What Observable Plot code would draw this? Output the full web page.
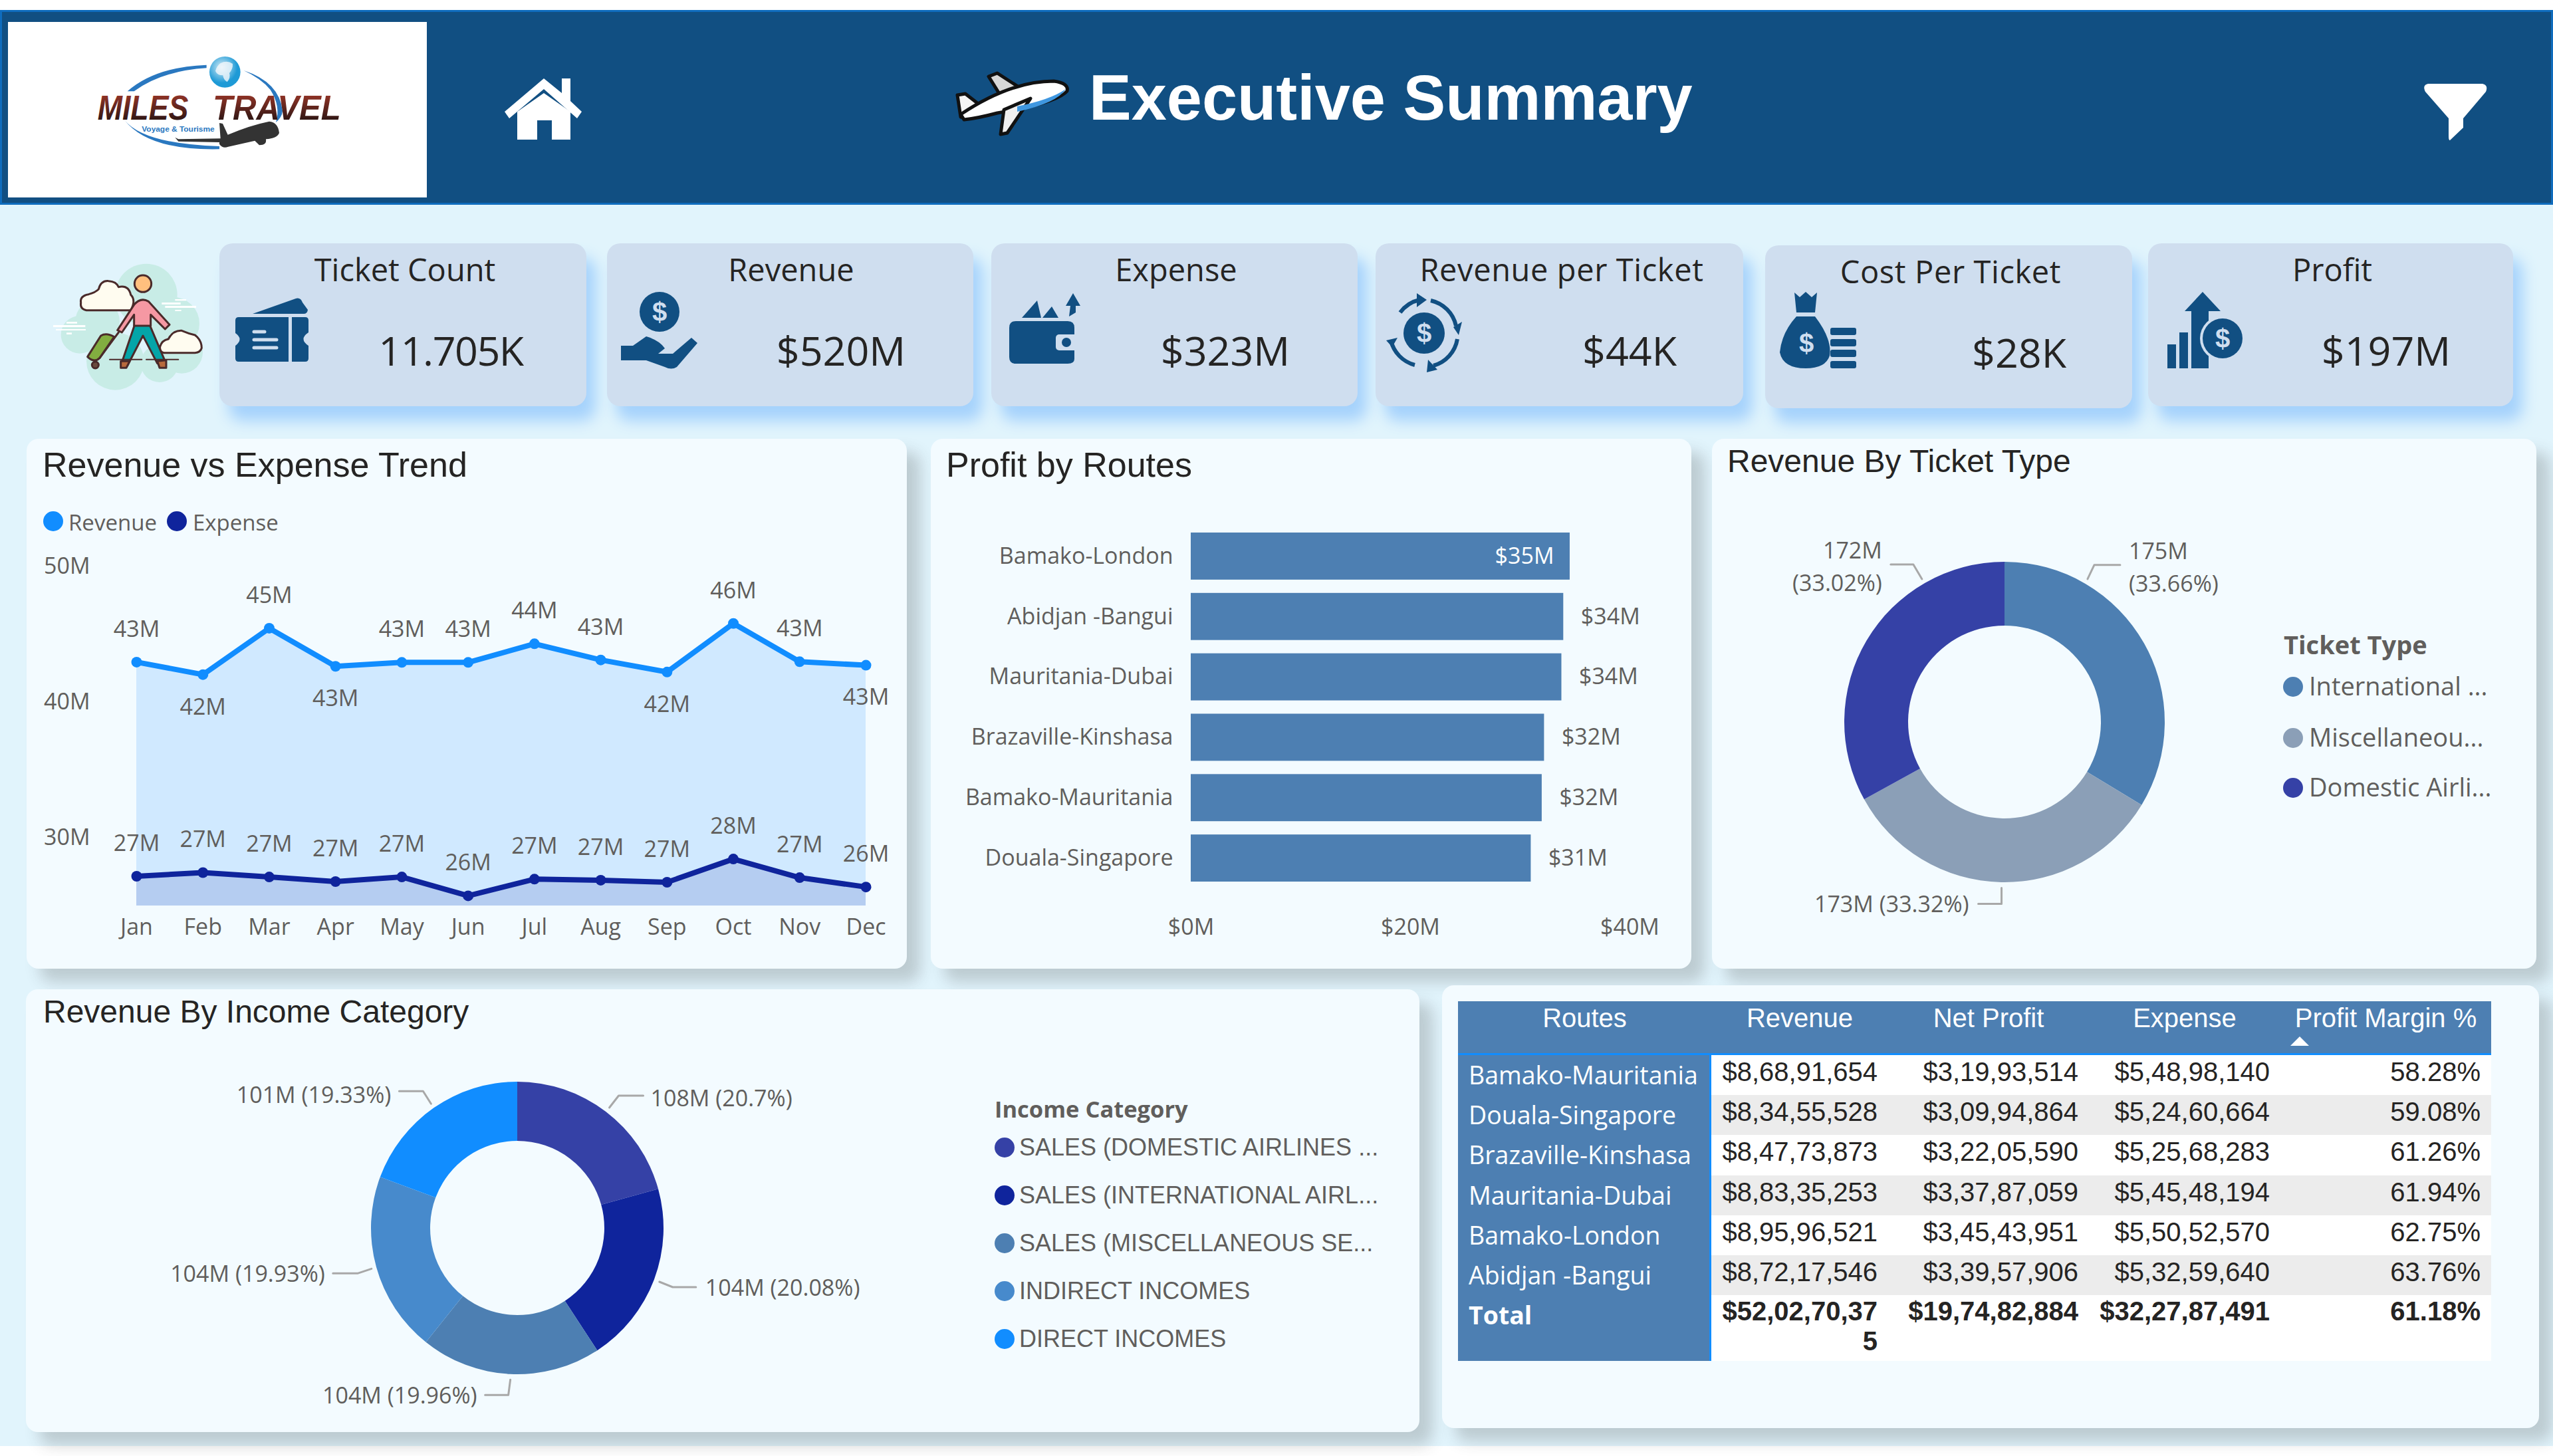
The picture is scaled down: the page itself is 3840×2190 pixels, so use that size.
<!DOCTYPE html>
<html><head><meta charset="utf-8"><title>Executive Summary</title>
<script src="https://cdn.jsdelivr.net/npm/d3@7"></script>
<script src="https://cdn.jsdelivr.net/npm/@observablehq/plot@0.6"></script>
<style>
html,body{margin:0;padding:0;background:#fff;width:3840px;height:2190px;overflow:hidden;}
#page{position:relative;width:3840px;height:2190px;overflow:hidden;}
#bg{position:absolute;left:0;top:15px;width:3840px;height:2160px;background:#E1F4FC;}
#hdr{position:absolute;left:0;top:15px;width:3840px;height:293px;box-sizing:border-box;background:#114F82;border:3px solid #0F6CBD;}
#logobox{position:absolute;left:12px;top:33px;width:630px;height:264px;background:#fff;}
.card{position:absolute;background:#CFDEEF;border-radius:20px;box-shadow:14px 22px 22px #A5D2FC;}
.panel{position:absolute;background:#F3FBFF;border-radius:18px;box-shadow:20px 20px 22px rgba(60,60,60,.22);}
.abs{position:absolute;}
.t{position:absolute;white-space:nowrap;line-height:1;}
svg.deco{position:absolute;left:0;top:0;}
#tbl{position:absolute;left:2193px;top:1506px;width:1554px;border-collapse:separate;border-spacing:0;table-layout:fixed;font-family:"Liberation Sans",Arial,sans-serif;font-size:40px;color:#252423;}
#tbl th{height:78px;background:#4D7FB2;color:#fff;font-weight:400;vertical-align:top;padding:0;line-height:50px;border-bottom:3px solid #118DFF;text-align:center;}
#tbl td{height:60.2px;padding:0 16px 0 0;vertical-align:top;line-height:50px;text-align:right;box-sizing:border-box;background:#fff;white-space:nowrap;}
#tbl tbody tr:nth-child(even) td{background:#ECECEC;}
#tbl tbody tr.total td{height:99px;font-weight:700;line-height:45px;padding-top:2px;background:#fff;}
#tbl tbody tr td.r{background:#4D7FB2;color:#fff;text-align:left;padding:0 0 0 16px;line-height:60px;font-family:"Open Sans",sans-serif;font-size:37.5px;border-right:3px solid #118DFF;}
#tbl tbody tr.total td.r{background:#4D7FB2;line-height:60px;padding-top:0;}
</style></head><body><div id="page">
<div id="bg"></div><div id="hdr"></div><div id="logobox"></div>
<script>
// ---------- DATA ----------
const months = ["Jan","Feb","Mar","Apr","May","Jun","Jul","Aug","Sep","Oct","Nov","Dec"];
const revenueM = [42.97,42.05,45.47,42.66,42.95,42.95,44.32,43.13,42.24,45.82,43.0,42.74];
const expenseM = [27.18,27.45,27.13,26.79,27.13,25.74,26.97,26.89,26.74,28.45,27.08,26.39];
const revenueLabelsBelow = ["Feb","Apr","Sep","Dec"];
const yTicks = [30,40,50];

const tableRoutes = ["Bamako-Mauritania","Douala-Singapore","Brazaville-Kinshasa","Mauritania-Dubai","Bamako-London","Abidjan -Bangui"];
const tableRevenue = [86891654,83455528,84773873,88335253,89596521,87217546];
const tableNetProfit = [31993514,30994864,32205590,33787059,34543951,33957906];
const tableExpense = [54898140,52460664,52568283,54548194,55052570,53259640];
const tableMargin = [58.28,59.08,61.26,61.94,62.75,63.76];
const totalRow = {revenue:520270375, profit:197482884, expense:322787491, margin:61.18};
const tableHeaders = ["Routes","Revenue","Net Profit","Expense","Profit Margin %"];
const barTicks = [0,20,40];

const ticketTypes = ["International Airlines","Miscellaneous","Domestic Airlines"];
const ticketLegend = ["International ...","Miscellaneou...","Domestic Airli..."];
const ticketValues = [175.1,173.4,171.8];
const ticketText = ["175M\n(33.66%)","173M (33.32%)","172M\n(33.02%)"];
const ticketColors = ["#4D7FB2","#8B9FB7","#3541A6"];

const incomeCats = ["SALES (DOMESTIC AIRLINES","SALES (INTERNATIONAL AIRLINES","SALES (MISCELLANEOUS SERVICES","INDIRECT INCOMES","DIRECT INCOMES"];
const incomeLegend = ["SALES (DOMESTIC AIRLINES ...","SALES (INTERNATIONAL AIRL...","SALES (MISCELLANEOUS SE...","INDIRECT INCOMES","DIRECT INCOMES"];
const incomeValues = [107.7,104.5,103.8,103.7,100.6];
const incomeText = ["108M (20.7%)","104M (20.08%)","104M (19.96%)","104M (19.93%)","101M (19.33%)"];
const incomeColors = ["#3541A6","#0F249C","#4D7FB2","#478ACC","#118DFF"];

const kpiTitles = ["Ticket Count","Revenue","Expense","Revenue per Ticket","Cost Per Ticket","Profit"];
const kpiValues = ["11.705K","$520M","$323M","$44K","$28K","$197M"];

// ---------- HELPERS ----------
const SANS = '"Open Sans",sans-serif', ARIAL = '"Liberation Sans",Arial,sans-serif';
const page = document.getElementById("page");
function box(cls,x,y,w,h){const d=document.createElement("div");d.className=cls;d.style.cssText+=`left:${x}px;top:${y}px;width:${w}px;height:${h}px;`;page.appendChild(d);return d;}
function T(x,y,s,o={}){const d=document.createElement("div");d.className="t";d.textContent=s;
  const a=o.anchor==="middle"?"-50%":o.anchor==="end"?"-100%":"0";
  d.style.cssText+=`left:${x}px;top:${y}px;transform:translate(${a},-50%);font-family:${o.font||SANS};font-size:${o.size||34}px;font-weight:${o.weight||400};color:${o.color||"#605E5C"};${o.extra||""}`;
  page.appendChild(d);return d;}
function place(plot,x,y){const d=document.createElement("div");d.className="abs";d.style.left=x+"px";d.style.top=y+"px";d.appendChild(plot);page.appendChild(d);}
const plotStyle={background:"transparent",color:"#605E5C",fontFamily:SANS,fontSize:"34px",overflow:"visible"};
function dot(x,y,c,r=15){const d=document.createElement("div");d.className="abs";d.style.cssText+=`left:${x-r}px;top:${y-r}px;width:${2*r}px;height:${2*r}px;border-radius:50%;background:${c};`;page.appendChild(d);}

// ---------- CARDS & PANELS ----------
[[330,366,552,245],[913,366,551,245],[1491,366,551,245],[2069,366,553,245],[2655,369,552,245],[3231,366,549,245]].forEach(b=>box("card",...b));
[[40,660,1324,797],[1400,660,1144,797],[2575,660,1240,797],[39,1488,2096,666],[2169,1482,1650,666]].forEach(b=>box("panel",...b));

// ---------- LINE CHART ----------
const trend = months.map((m,i)=>({m,rev:revenueM[i],exp:expenseM[i]}));
const fmtM = v=>`${Math.round(v)}M`;
place(Plot.plot({
  width:1324,height:797,marginLeft:105,marginRight:62,marginTop:192,marginBottom:95,style:plotStyle,
  x:{type:"point",domain:months,range:[165,1262],padding:0,round:false},
  y:{domain:[25,50]},
  marks:[
    Plot.areaY(trend,{x:"m",y1:()=>25,y2:"rev",fill:"#118DFF",fillOpacity:.155}),
    Plot.areaY(trend,{x:"m",y1:()=>25,y2:"exp",fill:"#12239E",fillOpacity:.14}),
    Plot.lineY(trend,{x:"m",y:"rev",stroke:"#118DFF",strokeWidth:8}),
    Plot.lineY(trend,{x:"m",y:"exp",stroke:"#0F249C",strokeWidth:8}),
    Plot.dot(trend,{x:"m",y:"rev",r:8,fill:"#118DFF"}),
    Plot.dot(trend,{x:"m",y:"exp",r:8,fill:"#0F249C"}),
    Plot.text(trend.filter(d=>!revenueLabelsBelow.includes(d.m)),{x:"m",y:"rev",text:d=>fmtM(d.rev),dy:-49,fontSize:34}),
    Plot.text(trend.filter(d=>revenueLabelsBelow.includes(d.m)),{x:"m",y:"rev",text:d=>fmtM(d.rev),dy:49,fontSize:34}),
    Plot.text(trend,{x:"m",y:"exp",text:d=>fmtM(d.exp),dy:-49,fontSize:34}),
    Plot.axisX({tickSize:0,tickPadding:19,fontSize:34,label:null}),
    Plot.axisY({ticks:yTicks,tickFormat:d=>`${d}M`,tickSize:0,tickPadding:10,fontSize:34,label:null})
  ]
}),40,660);

// ---------- BAR CHART ----------
const bars = d3.sort(tableRoutes.map((r,i)=>({r,v:tableNetProfit[i]/1e6})),d=>-d.v);
const fmtD = v=>`$${Math.round(v)}M`;
const insideMin = d3.max(bars,d=>d.v);
place(Plot.plot({
  width:1144,height:797,marginLeft:391,marginRight:93,marginTop:121,marginBottom:111,style:plotStyle,
  x:{domain:[0,40]},
  y:{domain:bars.map(d=>d.r),padding:.22,round:false},
  marks:[
    Plot.barX(bars,{x:"v",y:"r",fill:"#4D7FB2"}),
    Plot.text(bars.filter(d=>d.v<insideMin),{x:"v",y:"r",text:d=>fmtD(d.v),textAnchor:"start",dx:26,fontSize:34}),
    Plot.text(bars.filter(d=>d.v>=insideMin),{x:"v",y:"r",text:d=>fmtD(d.v),textAnchor:"end",dx:-24,fill:"#fff",fontSize:34}),
    Plot.axisX({ticks:barTicks,tickFormat:d=>`$${d}M`,tickSize:0,tickPadding:35,fontSize:34,label:null}),
    Plot.axisY({tickSize:0,tickPadding:27,fontSize:34,label:null})
  ]
}),1400,660);

// ---------- DONUTS ----------
function donut({names,values,colors,texts,width,height,cx,cy,R,r,layout}){
  const pie=d3.pie().value(d=>d.v).sort(null)(names.map((n,i)=>({n,v:values[i]})));
  const leaders=[],labels=[];
  pie.forEach((p,i)=>{
    const L=layout[i];
    const a=(p.startAngle+p.endAngle)/2*(L.angleFactor??1);
    const x0=(R+8)*Math.sin(a),y0=-(R+8)*Math.cos(a);
    const x1=x0+L.elbow[0],y1=y0+L.elbow[1],x2=x1+L.run;
    [[x0,y0],[x1,y1],[x2,y1]].forEach(q=>leaders.push({k:i,x:q[0],y:q[1]}));
    labels.push({x:x2+Math.sign(L.run)*L.gap,y:y1+L.dy,text:texts[i],side:L.run>0?"start":"end"});
  });
  const arcs=(index,scales,values,dims,context)=>{
    const g=d3.select(context.document.createElementNS(d3.namespaces.svg,"g"))
      .attr("transform",`translate(${scales.x(0)},${scales.y(0)})`);
    const arc=d3.arc().innerRadius(r).outerRadius(R);
    g.selectAll("path").data(pie).join("path").attr("d",arc).attr("fill",d=>scales.color(d.data.n));
    return g.node();
  };
  const common={x:"x",y:"y",text:"text",fontSize:34,lineHeight:1.44,lineAnchor:"middle"};
  return Plot.plot({
    width,height,margin:0,style:plotStyle,
    x:{domain:[-cx,width-cx],range:[0,width],axis:null},
    y:{domain:[-cy,height-cy],range:[0,height],axis:null},
    color:{domain:names,range:colors},
    marks:[
      arcs,
      Plot.line(leaders,{x:"x",y:"y",z:"k",stroke:"#A8A8A8",strokeWidth:3}),
      Plot.text(labels.filter(d=>d.side==="start"),{...common,textAnchor:"start"}),
      Plot.text(labels.filter(d=>d.side==="end"),{...common,textAnchor:"end"})
    ]
  });
}
// The outer two leaders of the ticket donut do not sit at the slice's mid angle:
// the first is at 30 deg (mid 60.6), the last at 330 deg (mid 300.6).
const ticketLayout=[
  {angleFactor:.495,elbow:[10,-21],run:39,gap:13,dy:0},
  {elbow:[0,24],run:-35,gap:14,dy:-3},
  {angleFactor:330/300.6,elbow:[-13,-22],run:-34,gap:13,dy:0}
];
place(donut({names:ticketTypes,values:ticketValues,colors:ticketColors,texts:ticketText,width:1240,height:797,cx:440,cy:426,R:241,r:145,layout:ticketLayout}),2575,660);
const incomeLayout=[
  {elbow:[14,-18],run:37,gap:11,dy:0},
  {elbow:[20,8],run:35,gap:14,dy:-3},
  {elbow:[-3,23],run:-35,gap:12,dy:-3},
  {elbow:[-21,7],run:-37,gap:12,dy:-3},
  {elbow:[-12,-19],run:-36,gap:12,dy:2}
];
place(donut({names:incomeCats,values:incomeValues,colors:incomeColors,texts:incomeText,width:2096,height:666,cx:739,cy:359,R:220,r:131,layout:incomeLayout}),39,1488);

// ---------- TABLE ----------
const inr=n=>"$"+n.toLocaleString("en-IN");
const tbl=document.createElement("table");tbl.id="tbl";
const colWidths=[381,266,302,288,317];
let html="<colgroup>"+colWidths.map(w=>`<col style="width:${w}px">`).join("")+"</colgroup><thead><tr>"+tableHeaders.map(h=>`<th>${h}</th>`).join("")+"</tr></thead><tbody>";
tableRoutes.forEach((r,i)=>{html+=`<tr><td class="r">${r}</td><td>${inr(tableRevenue[i])}</td><td>${inr(tableNetProfit[i])}</td><td>${inr(tableExpense[i])}</td><td>${tableMargin[i].toFixed(2)}%</td></tr>`;});
const totRev=inr(totalRow.revenue);
html+=`<tr class="total"><td class="r">Total</td><td>${totRev.slice(0,-1)}<br>${totRev.slice(-1)}</td><td>${inr(totalRow.profit)}</td><td>${inr(totalRow.expense)}</td><td>${totalRow.margin.toFixed(2)}%</td></tr></tbody>`;
tbl.innerHTML=html;page.appendChild(tbl);

// ---------- TEXT ----------
T(1638,148,"Executive Summary",{font:ARIAL,size:95.5,weight:700,color:"#fff"});
const kpiTx=[609,1190,1769,2349,2934,3508], kpiVx=[678,1265,1843,2451,3037,3589], kpiDy=[0,0,0,0,3,0];
const kpiTitleSpacing=[0,0,0,.6,.6,0], kpiValueSpacing=[-1.5,0,0,0,0,0];
kpiTitles.forEach((s,i)=>{T(kpiTx[i],405+kpiDy[i],s,{size:47,anchor:"middle",color:"#252423",extra:`letter-spacing:${kpiTitleSpacing[i]}px;`});
  T(kpiVx[i],526+kpiDy[i],kpiValues[i],{size:61,weight:500,anchor:"middle",color:"#252423",extra:`letter-spacing:${kpiValueSpacing[i]}px;`});});
T(64,699,"Revenue vs Expense Trend",{font:ARIAL,size:52,color:"#252423"});
T(1423,699,"Profit by Routes",{font:ARIAL,size:52,color:"#252423"});
T(2598,694,"Revenue By Ticket Type",{font:ARIAL,size:48,color:"#252423"});
T(65,1522,"Revenue By Income Category",{font:ARIAL,size:48,color:"#252423"});
dot(80,784,"#118DFF");T(103,785,"Revenue",{size:33});
dot(266,784,"#0F249C");T(290,785,"Expense",{size:33});
T(3435,969,"Ticket Type",{size:38,weight:700});
[1031,1108,1183].forEach((y,i)=>{dot(3449,y+2,ticketColors[i]);T(3473,y,ticketLegend[i],{size:38});});
T(1496,1668,"Income Category",{size:34.5,weight:700});
[1726,1798,1870,1942,2014].forEach((y,i)=>{dot(1511,y,incomeColors[i]);T(1533,y,incomeLegend[i],{font:ARIAL,size:36});});

// ---------- DECORATIVE ICONS ----------
const ns=`#114F82`;
const deco=`<svg class="deco" width="3840" height="2190" xmlns="http://www.w3.org/2000/svg">
<defs><linearGradient id="lg" x1="0" y1="0" x2="0" y2="1"><stop offset="0" stop-color="#A83A2A"/><stop offset="1" stop-color="#150F10"/></linearGradient>
<radialGradient id="gl" cx=".4" cy=".35"><stop offset="0" stop-color="#D5ECF6"/><stop offset="1" stop-color="#1E9AD6"/></radialGradient></defs>
<!-- logo -->
<g transform="translate(100,60) scale(.3333)">
<path d="M275 232Q400 122 632 113L632 127Q430 140 305 232Z" fill="#2A78C0"/>
<path d="M800 138Q960 190 975 320Q972 350 945 372Q968 300 920 225Q880 175 800 138Z" fill="#2A78C0"/>
<path d="M262 362Q350 470 690 480L690 493Q370 500 262 362Z" fill="#2A78C0"/>
<circle cx="715" cy="145" r="70" fill="url(#gl)"/>
<path d="M695 105Q725 90 750 108Q752 130 735 150Q742 170 725 190Q708 180 706 160Q680 160 672 140Q678 118 695 105Z" fill="#F2F8FB" opacity=".8"/>
<text x="140" y="360" font-family="Liberation Sans" font-style="italic" font-weight="700" font-size="154" fill="url(#lg)" textLength="410" lengthAdjust="spacingAndGlyphs">MILES</text>
<text x="660" y="360" font-family="Liberation Sans" font-style="italic" font-weight="700" font-size="154" fill="url(#lg)" textLength="578" lengthAdjust="spacingAndGlyphs">TRAVEL</text>
<text x="340" y="415" font-family="Liberation Sans" font-weight="700" font-size="34" fill="#2A78C0" textLength="328" lengthAdjust="spacingAndGlyphs">Voyage &amp; Tourisme</text>
<path d="M690 375L705 378L728 428Q830 385 915 368Q955 372 960 420Q950 445 900 448Q905 475 870 475L850 455L730 482Q705 492 690 470L690 462L505 458L490 440L505 448L695 445Z" fill="#333"/>
</g>
<!-- home -->
<path d="M818 118L845 140V118H858V152L875 168L868 178L818 134L766 178L759 168Z" fill="#fff"/>
<path d="M778 168L818 140L858 168V210H830V181H808V210H778Z" fill="#fff"/>
<!-- header plane -->
<g stroke="#111" stroke-width="5" stroke-linejoin="round">
<path d="M1487 115L1500 110L1537 134L1505 144Z" fill="#D8D8D8"/>
<path d="M1440 143L1452 141L1470 155L1455 178L1445 176Z" fill="#F4F4F4"/>
<path d="M1445 172Q1520 122 1585 122Q1608 125 1605 137Q1590 155 1500 170Q1470 178 1450 180Z" fill="#fff"/>
<path d="M1510 165L1550 148L1515 200L1505 202Z" fill="#F0F0F0"/>
</g>
<path d="M1530 160Q1580 150 1603 134Q1590 155 1530 168Z" fill="#3F97E0"/>
<!-- funnel -->
<path d="M3652 126H3734Q3743 128 3739 138L3705 178V192L3685 211Q3683 211 3683 205V178L3648 138Q3643 128 3652 126Z" fill="#fff"/>
<!-- person -->
<g transform="translate(80,390) scale(.3333)">
<g fill="#C8ECE6"><circle cx="420" cy="160" r="140"/><circle cx="200" cy="280" r="100"/><circle cx="120" cy="340" r="85"/><circle cx="540" cy="290" r="120"/><circle cx="580" cy="420" r="95"/><circle cx="280" cy="460" r="130"/><circle cx="480" cy="470" r="85"/></g>
<g fill="#fff"><rect x="490" y="195" width="85" height="9"/><rect x="550" y="180" width="50" height="7"/><rect x="505" y="210" width="140" height="9"/><rect x="550" y="228" width="28" height="6"/><rect x="0" y="297" width="145" height="9"/><rect x="60" y="282" width="48" height="8"/><rect x="12" y="315" width="135" height="6"/><rect x="60" y="331" width="24" height="8"/></g>
<g stroke="#4A2A2A" stroke-width="9" stroke-linejoin="round" stroke-linecap="round">
<path d="M125 195Q120 165 160 158Q190 150 205 135Q215 95 250 98Q285 100 295 125Q340 115 350 160Q375 185 350 230H150Q120 225 125 195Z" fill="#FFFCF0"/>
<path d="M482 395Q490 365 520 360Q540 320 580 322Q610 335 640 342Q670 365 670 400Q665 420 640 422H500Q480 420 482 395Z" fill="#FFFCF0"/>
<path d="M155 440L215 345Q240 330 275 350L210 445Q185 470 155 440Z" fill="#82AD40"/>
<circle cx="190" cy="477" r="15" fill="#6B4A3E"/>
<path d="M210 445L295 330" fill="none"/>
<path d="M368 295L310 465L335 480L405 345L470 470L505 460L435 295Z" fill="#04A5A8"/>
<path d="M305 460L345 460L330 490H305Z" fill="#B86A3C"/><path d="M470 460L510 455L510 490H480Z" fill="#B86A3C"/>
<path d="M290 320L365 205Q395 170 430 190L525 295L505 315L440 250V300H365V250L310 330Z" fill="#F598A3"/>
<circle cx="405" cy="110" r="38" fill="#FFC07E"/>
<path d="M255 452H400M420 452H565" fill="none" stroke-width="6"/>
</g></g>
<!-- card 1 ticket -->
<path d="M380 472L445 449Q452 447 455 455L463 466Q462 472 457 472Z" fill="${ns}"/>
<path d="M359 477H434V544H359Q354 544 354 539V520Q367 510 354 501V482Q354 477 359 477Z" fill="${ns}"/>
<path d="M439 477H459Q464 477 464 482V500Q449 510 464 520V539Q464 544 459 544H439Z" fill="${ns}"/>
<g stroke="#CFDEEF" stroke-width="5" stroke-linecap="round"><path d="M382 499H398M382 511H416M382 523H416"/></g>
<!-- card 2 hand -->
<circle cx="992" cy="469" r="30" fill="${ns}"/>
<text x="992" y="483" font-family="Liberation Sans" font-weight="700" font-size="40" text-anchor="middle" fill="#CFDEEF">$</text>
<path d="M934 520H952L972 506Q992 512 1000 524L990 532H1012L1040 508L1049 516L1018 552Q1010 557 1000 552L972 542H934Z" fill="${ns}"/>
<!-- card 3 wallet -->
<path d="M1537 478L1560 452L1566 478ZM1568 478L1582 461L1592 478Z" fill="${ns}"/>
<path d="M1528 483H1606Q1616 483 1616 493V540Q1616 547 1606 547H1528Q1518 547 1518 537V493Q1518 483 1528 483Z" fill="${ns}"/>
<rect x="1588" y="503" width="34" height="24" rx="5" fill="#CFDEEF"/><circle cx="1604" cy="515" r="7" fill="${ns}"/>
<path d="M1614 441L1625 460H1618V470L1608 476L1610 460H1603Z" fill="${ns}"/>
<!-- card 4 cycle -->
<g fill="none" stroke="${ns}" stroke-width="6"><path d="M2106 470A50 50 0 0 1 2135 451"/><path d="M2152 452A50 50 0 0 1 2190 490"/><path d="M2192 510A50 50 0 0 1 2156 550"/><path d="M2128 549A50 50 0 0 1 2092 512"/></g>
<path d="M2131 441L2146 451L2131 462ZM2186 492L2199 484L2194 504ZM2148 541L2162 556L2146 560ZM2085 512L2102 508L2094 522Z" fill="${ns}"/>
<circle cx="2142" cy="501" r="31" fill="${ns}"/>
<text x="2142" y="515" font-family="Liberation Sans" font-weight="700" font-size="40" text-anchor="middle" fill="#CFDEEF">$</text>
<!-- card 5 bag -->
<path d="M2699 440L2707 447L2716 439L2725 447L2733 440L2730 470H2702Z" fill="${ns}"/>
<path d="M2702 476H2730Q2756 510 2752 535Q2746 554 2716 554Q2682 554 2677 530Q2680 500 2702 476Z" fill="${ns}"/>
<text x="2717" y="530" font-family="Liberation Sans" font-weight="700" font-size="40" text-anchor="middle" fill="#CFDEEF">$</text>
<g fill="${ns}"><rect x="2753" y="493" width="39" height="11" rx="3"/><rect x="2753" y="510" width="39" height="11" rx="3"/><rect x="2753" y="526" width="39" height="11" rx="3"/><rect x="2753" y="543" width="39" height="11" rx="3"/></g>
<!-- card 6 -->
<g fill="${ns}"><rect x="3260" y="518" width="13" height="36"/><rect x="3278" y="500" width="13" height="54"/><path d="M3313 439L3340 468H3322V554H3296V468H3286Z"/></g>
<circle cx="3343" cy="509" r="34" fill="#CFDEEF"/><circle cx="3343" cy="509" r="30" fill="${ns}"/>
<text x="3343" y="523" font-family="Liberation Sans" font-weight="700" font-size="40" text-anchor="middle" fill="#CFDEEF">$</text>
<!-- sort arrow -->
<path d="M3459 1559L3473 1573H3445Z" fill="#fff"/>
</svg>`;
const wrap=document.createElement("div");wrap.innerHTML=deco;page.appendChild(wrap.firstChild);
</script>
</div></body></html>
